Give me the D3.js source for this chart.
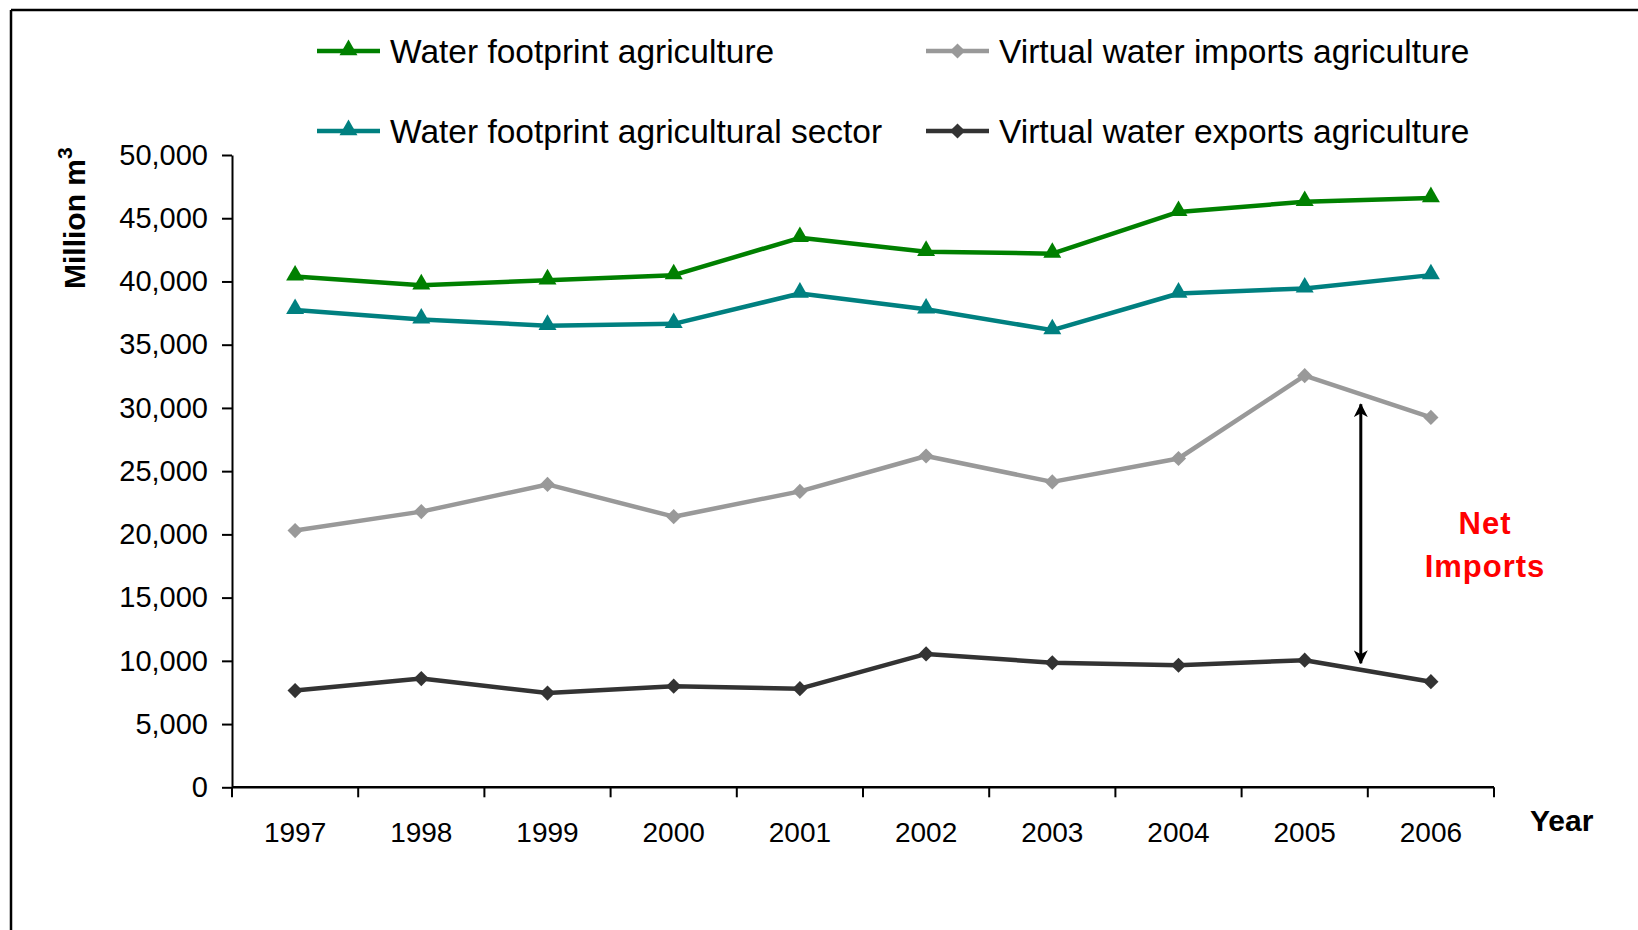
<!DOCTYPE html>
<html>
<head>
<meta charset="utf-8">
<script src="https://cdn.jsdelivr.net/npm/d3@7/dist/d3.min.js"></script>
<style>
  html, body { margin: 0; padding: 0; background: #fff; }
  svg { display: block; font-family: "Liberation Sans", Arial, sans-serif; }
</style>
</head>
<body>
<svg id="chart" width="1638" height="930"></svg>
<script>
// ---- data ----
const years = ["1997","1998","1999","2000","2001","2002","2003","2004","2005","2006"];
const footprintAgri = [40400, 39700, 40100, 40500, 43450, 42350, 42200, 45500, 46300, 46600];
const footprintSector = [37750, 37000, 36500, 36650, 39050, 37800, 36150, 39050, 39450, 40500];
const importsAgri = [20300, 21800, 23950, 21400, 23400, 26200, 24150, 26000, 32550, 29250];
const exportsAgri = [7650, 8600, 7450, 8000, 7800, 10550, 9850, 9650, 10050, 8350];
const yTicks = [0, 5000, 10000, 15000, 20000, 25000, 30000, 35000, 40000, 45000, 50000];
const seriesNames = ["Water footprint agriculture", "Water footprint agricultural sector",
                     "Virtual water imports agriculture", "Virtual water exports agriculture"];
const netArrow = { afterYear: "2006", from: 30300, to: 9800 };

(function () {
const series = [
  { name: seriesNames[0], values: footprintAgri,   color: "#008000", marker: "triangle" },
  { name: seriesNames[1], values: footprintSector, color: "#008080", marker: "triangle" },
  { name: seriesNames[2], values: importsAgri,     color: "#999999", marker: "diamond" },
  { name: seriesNames[3], values: exportsAgri,     color: "#333333", marker: "diamond" }
];

const svg = d3.select("#chart");

// frame (top and left edges visible)
svg.append("line").attr("x1", 11).attr("x2", 1638).attr("y1", 10).attr("y2", 10)
  .attr("stroke", "#000").attr("stroke-width", 2.5);
svg.append("line").attr("x1", 11).attr("x2", 11).attr("y1", 10).attr("y2", 930)
  .attr("stroke", "#000").attr("stroke-width", 2.5);

const pLeft = 232, pRight = 1494, pTop = 155, pBottom = 787.3;

const x = d3.scaleBand().domain(years).range([pLeft, pRight]).padding(0);
const y = d3.scaleLinear().domain([0, 50000]).range([pBottom, pTop]);
const fmt = d3.format(",");

// y axis
const yAxis = svg.append("g").attr("transform", `translate(${pLeft},0)`)
  .call(d3.axisLeft(y).tickValues(yTicks).tickFormat(fmt).tickSize(10).tickSizeOuter(0).tickPadding(14));
yAxis.select(".domain").attr("stroke", "#000").attr("stroke-width", 2);
yAxis.selectAll(".tick line").attr("stroke", "#000").attr("stroke-width", 2);
yAxis.selectAll(".tick text").attr("font-size", 29).attr("fill", "#000")
  .attr("font-family", "'Liberation Sans', Arial, sans-serif");

// x axis: ticks at category boundaries
const xAxisG = svg.append("g").attr("transform", `translate(0,${pBottom})`);
xAxisG.append("line").attr("x1", pLeft).attr("x2", pRight).attr("stroke", "#000").attr("stroke-width", 2.5);
const boundaries = years.map(d => x(d)).concat([x(years[years.length - 1]) + x.bandwidth()]);
xAxisG.selectAll("line.tk").data(boundaries).join("line").attr("class", "tk")
  .attr("x1", d => d).attr("x2", d => d).attr("y1", 0).attr("y2", 10)
  .attr("stroke", "#000").attr("stroke-width", 2);
xAxisG.selectAll("text").data(years).join("text")
  .attr("x", d => x(d) + x.bandwidth() / 2).attr("y", 55)
  .attr("text-anchor", "middle").attr("font-size", 28).attr("fill", "#000")
  .text(d => d);

// axis titles
const yTitle = svg.append("text")
  .attr("transform", "translate(85,289) rotate(-90)")
  .attr("font-size", 30).attr("font-weight", "bold").attr("fill", "#000");
yTitle.append("tspan").text("Million m");
yTitle.append("tspan").attr("font-size", 21).attr("dy", -13).text("3");

svg.append("text").attr("x", 1530).attr("y", 831)
  .attr("font-size", 30).attr("font-weight", "bold").attr("fill", "#000").text("Year");

// markers
const triPath = d3.symbol().type(d3.symbolTriangle).size(140)();
const diaPath = d3.symbol().type(d3.symbolSquare).size(115)();
function drawMarker(g, type, color, cx, cy) {
  if (type === "triangle") {
    g.append("path").attr("d", triPath).attr("transform", `translate(${cx},${cy - 1})`).attr("fill", color);
  } else {
    g.append("path").attr("d", diaPath).attr("transform", `translate(${cx},${cy}) rotate(45)`).attr("fill", color);
  }
}

const line = d3.line().x((d, i) => x(years[i]) + x.bandwidth() / 2).y(d => y(d));
series.forEach(s => {
  const g = svg.append("g");
  g.append("path").attr("d", line(s.values)).attr("fill", "none")
    .attr("stroke", s.color).attr("stroke-width", 4.5).attr("stroke-linejoin", "round");
  s.values.forEach((v, i) => drawMarker(g, s.marker, s.color, x(years[i]) + x.bandwidth() / 2, y(v)));
});

// legend
const legendPos = [
  { lx: 317, tx: 390, y: 51 },
  { lx: 317, tx: 390, y: 131 },
  { lx: 926, tx: 999, y: 51 },
  { lx: 926, tx: 999, y: 131 }
];
series.forEach((s, i) => {
  const p = legendPos[i];
  const g = svg.append("g");
  g.append("line").attr("x1", p.lx).attr("x2", p.lx + 63).attr("y1", p.y).attr("y2", p.y)
    .attr("stroke", s.color).attr("stroke-width", 4.5);
  drawMarker(g, s.marker, s.color, p.lx + 31.5, p.y);
  g.append("text").attr("x", p.tx).attr("y", p.y + 12).attr("font-size", 33.5).attr("fill", "#000").text(s.name);
});

// net imports arrow
const defs = svg.append("defs");
defs.append("marker").attr("id", "arrowhead").attr("viewBox", "0 0 14 14")
  .attr("refX", 13).attr("refY", 7).attr("markerWidth", 14).attr("markerHeight", 14)
  .attr("markerUnits", "userSpaceOnUse").attr("orient", "auto-start-reverse")
  .append("path").attr("d", "M0,0 L14,7 L0,14 L4,7 Z").attr("fill", "#000");
const ax = x(netArrow.afterYear) - 7;
svg.append("line").attr("x1", ax).attr("x2", ax)
  .attr("y1", y(netArrow.from)).attr("y2", y(netArrow.to))
  .attr("stroke", "#000").attr("stroke-width", 3)
  .attr("marker-start", "url(#arrowhead)").attr("marker-end", "url(#arrowhead)");

const net = svg.append("text").attr("text-anchor", "middle").attr("font-size", 31)
  .attr("font-weight", "bold").attr("fill", "#FF0000").attr("letter-spacing", 1);
net.append("tspan").attr("x", 1485).attr("y", 534).text("Net");
net.append("tspan").attr("x", 1485).attr("y", 577).text("Imports");
})();
</script>
</body>
</html>
